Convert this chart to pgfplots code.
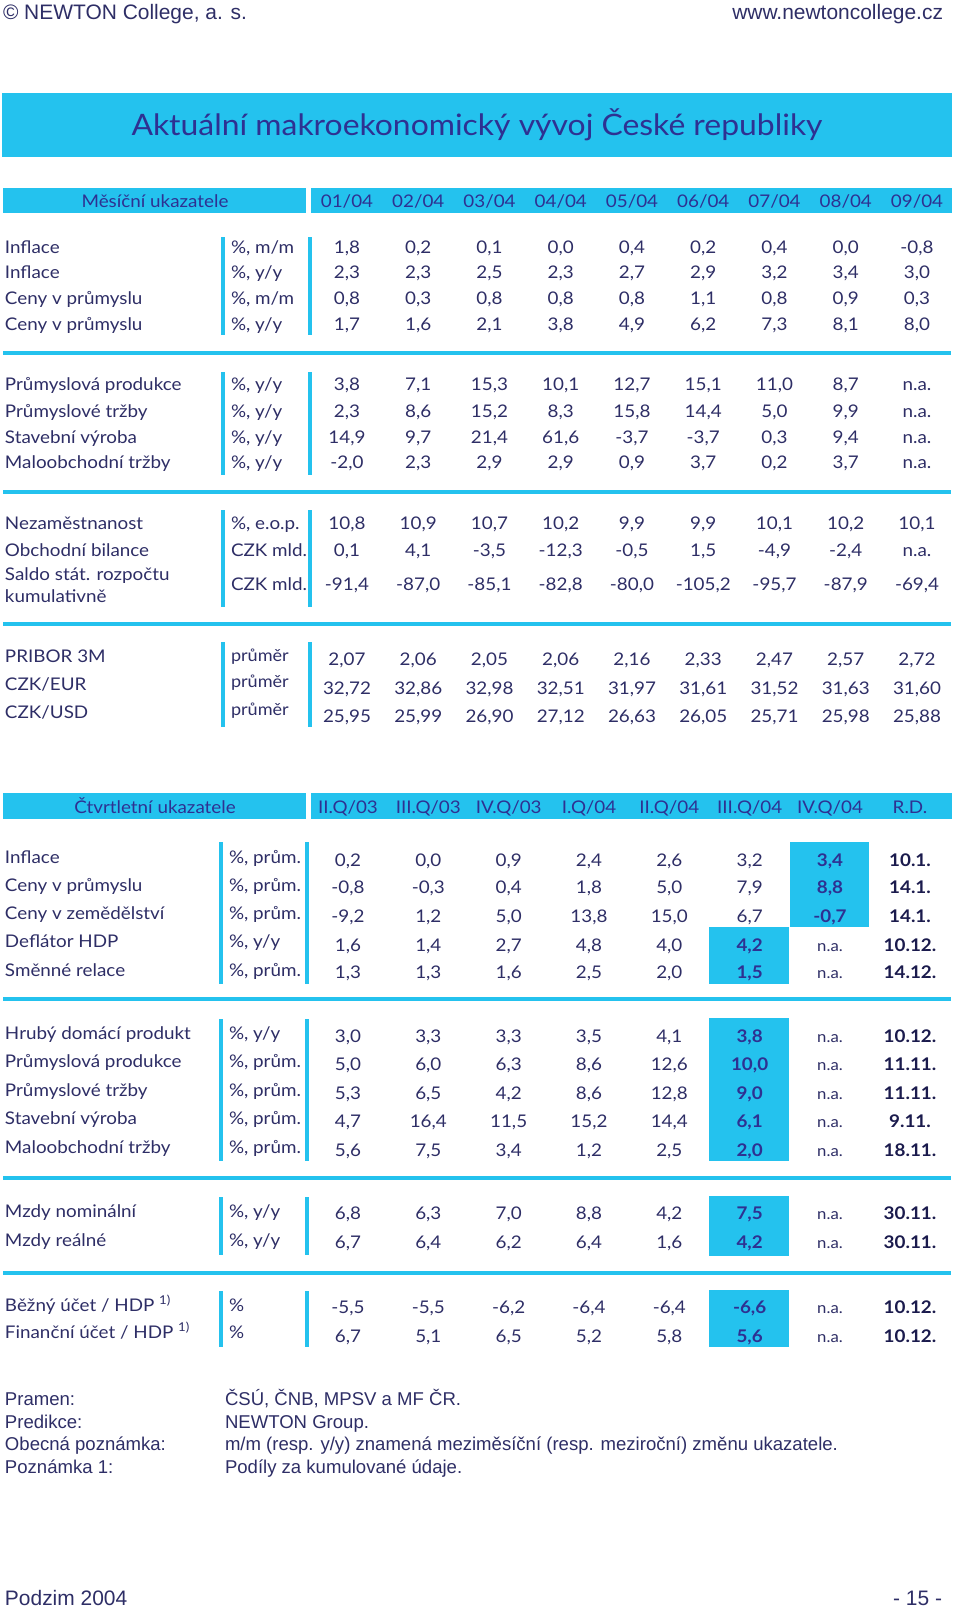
\documentclass[border=0pt]{standalone}
\usepackage{fontspec}
\setmainfont[FakeStretch=1.08]{Lato}
\newfontfamily\arialfont{Liberation Sans}
\usepackage{pgfplots}
\usepackage{pgfplotstable}
\pgfplotsset{compat=1.18}

\definecolor{ink}{RGB}{46,46,102}
\definecolor{navy}{RGB}{46,49,146}
\definecolor{deep}{RGB}{27,27,77}
\definecolor{cyanb}{RGB}{36,194,238}

% 1 px of the reference = 0.25mm = 0.711pt
\newcommand\fbody{\fontsize{12.4}{14}\selectfont}
\newcommand\fsmall{\fontsize{11}{13}\selectfont}
\newcommand\funit{\fontsize{11.9}{13}\selectfont}
\newcommand\ftitle{\fontsize{21}{24}\selectfont}
\newcommand\ftop{\arialfont\fontsize{14.9}{17}\selectfont}
\newcommand\fnote{\arialfont\fontsize{13.2}{15}\selectfont}
\newcommand\hv[1]{{\bfseries\color{navy}#1}}
\newcommand\na{{\fsmall n.a.}}

% monthly indicators: baseline y, then 01/04 ... 09/04
\pgfplotstableread[col sep=semicolon]{
yv;c1;c2;c3;c4;c5;c6;c7;c8;c9
253;1,8;0,2;0,1;0,0;0,4;0,2;0,4;0,0;-0,8
278;2,3;2,3;2,5;2,3;2,7;2,9;3,2;3,4;3,0
304;0,8;0,3;0,8;0,8;0,8;1,1;0,8;0,9;0,3
330;1,7;1,6;2,1;3,8;4,9;6,2;7,3;8,1;8,0
390;3,8;7,1;15,3;10,1;12,7;15,1;11,0;8,7;n.a.
417;2,3;8,6;15,2;8,3;15,8;14,4;5,0;9,9;n.a.
443;14,9;9,7;21,4;61,6;-3,7;-3,7;0,3;9,4;n.a.
468;-2,0;2,3;2,9;2,9;0,9;3,7;0,2;3,7;n.a.
529;10,8;10,9;10,7;10,2;9,9;9,9;10,1;10,2;10,1
556;0,1;4,1;-3,5;-12,3;-0,5;1,5;-4,9;-2,4;n.a.
590;-91,4;-87,0;-85,1;-82,8;-80,0;-105,2;-95,7;-87,9;-69,4
665;2,07;2,06;2,05;2,06;2,16;2,33;2,47;2,57;2,72
694;32,72;32,86;32,98;32,51;31,97;31,61;31,52;31,63;31,60
722;25,95;25,99;26,90;27,12;26,63;26,05;25,71;25,98;25,88
}\monthly

\pgfplotstableread[col sep=semicolon]{
y;t
253;Inflace
278;Inflace
304;Ceny v průmyslu
330;Ceny v průmyslu
390;Průmyslová produkce
417;Průmyslové tržby
443;Stavební výroba
468;Maloobchodní tržby
529;Nezaměstnanost
556;Obchodní bilance
580;Saldo stát. rozpočtu
602;kumulativně
662;PRIBOR 3M
690;CZK/EUR
718;CZK/USD
}\mnames

\pgfplotstableread[col sep=semicolon]{
y;t
253;\%, m/m
278;\%, y/y
304;\%, m/m
330;\%, y/y
390;\%, y/y
417;\%, y/y
443;\%, y/y
468;\%, y/y
529;\%, e.o.p.
556;CZK mld.
590;CZK mld.
661;{\funit průměr}
687;{\funit průměr}
715;{\funit průměr}
}\munits

% quarterly indicators: baseline y, II.Q/03 ... IV.Q/04, release date
\pgfplotstableread[col sep=semicolon]{
yv;q1;q2;q3;q4;q5;q6;q7;rd
866;0,2;0,0;0,9;2,4;2,6;3,2;\hv{3,4};10.1.
893;-0,8;-0,3;0,4;1,8;5,0;7,9;\hv{8,8};14.1.
922;-9,2;1,2;5,0;13,8;15,0;6,7;\hv{-0,7};14.1.
951;1,6;1,4;2,7;4,8;4,0;\hv{4,2};\na;10.12.
978;1,3;1,3;1,6;2,5;2,0;\hv{1,5};\na;14.12.
1042;3,0;3,3;3,3;3,5;4,1;\hv{3,8};\na;10.12.
1070;5,0;6,0;6,3;8,6;12,6;\hv{10,0};\na;11.11.
1099;5,3;6,5;4,2;8,6;12,8;\hv{9,0};\na;11.11.
1127;4,7;16,4;11,5;15,2;14,4;\hv{6,1};\na;9.11.
1156;5,6;7,5;3,4;1,2;2,5;\hv{2,0};\na;18.11.
1219;6,8;6,3;7,0;8,8;4,2;\hv{7,5};\na;30.11.
1248;6,7;6,4;6,2;6,4;1,6;\hv{4,2};\na;30.11.
1313;-5,5;-5,5;-6,2;-6,4;-6,4;\hv{-6,6};\na;10.12.
1342;6,7;5,1;6,5;5,2;5,8;\hv{5,6};\na;10.12.
}\quarterly

\pgfplotstableread[col sep=semicolon]{
y;t
863;Inflace
891;Ceny v průmyslu
919;Ceny v zemědělství
947;Deflátor HDP
976;Směnné relace
1039;Hrubý domácí produkt
1067;Průmyslová produkce
1096;Průmyslové tržby
1124;Stavební výroba
1153;Maloobchodní tržby
1217;Mzdy nominální
1246;Mzdy reálné
1311;Běžný účet / HDP \textsuperscript{1)}
1338;Finanční účet / HDP \textsuperscript{1)}
}\qnames

\pgfplotstableread[col sep=semicolon]{
y;t
863;\%, prům.
891;\%, prům.
919;\%, prům.
947;\%, y/y
976;\%, prům.
1039;\%, y/y
1067;\%, prům.
1096;\%, prům.
1124;\%, prům.
1153;\%, prům.
1217;\%, y/y
1246;\%, y/y
1311;\%
1338;\%
}\qunits

\pgfplotsset{
  txt/.style={only marks, mark=none, point meta=explicit symbolic, nodes near coords,
    every node near coord/.append style={anchor=base, inner sep=0pt, outer sep=0pt,
      text=ink, font=\fbody}},
  ltxt/.style={txt, every node near coord/.append style={anchor=base west}},
  rtxt/.style={txt, every node near coord/.append style={anchor=base east}},
  rule/.style={mark=none, draw=cyanb, line width=1mm},
  box/.style={mark=none, draw=none, fill=cyanb},
}

\begin{document}
\begin{tikzpicture}
\begin{axis}[
    x=0.25mm, y=0.25mm, y dir=reverse,
    xmin=0, xmax=960, ymin=0, ymax=1608,
    hide axis, clip=false,
]
\addplot[mark=none, draw=none, fill=white] coordinates {(0,0) (960,0) (960,1608) (0,1608)};

% bands and highlighted cells
\addplot[box] coordinates {(2,93) (952,93) (952,157) (2,157)};
\addplot[box] coordinates {(3,188) (306,188) (306,213) (3,213)};
\addplot[box] coordinates {(311,188) (952,188) (952,213) (311,213)};
\addplot[box] coordinates {(3,793) (306,793) (306,819) (3,819)};
\addplot[box] coordinates {(311,793) (952,793) (952,819) (311,819)};
\addplot[box] coordinates {(790,842) (869,842) (869,927) (790,927)};
\addplot[box] coordinates {(709,927) (789,927) (789,984) (709,984)};
\addplot[box] coordinates {(709,1018) (789,1018) (789,1161) (709,1161)};
\addplot[box] coordinates {(709,1196) (789,1196) (789,1256) (709,1256)};
\addplot[box] coordinates {(709,1290) (789,1290) (789,1347) (709,1347)};

% separators
\addplot[rule] coordinates {(3,353) (951,353)};
\addplot[rule] coordinates {(3,492) (951,492)};
\addplot[rule] coordinates {(3,624) (951,624)};
\addplot[rule] coordinates {(3,999) (951,999)};
\addplot[rule] coordinates {(3,1178) (951,1178)};
\addplot[rule] coordinates {(3,1273) (951,1273)};

% vertical bars
\addplot[rule] coordinates {(223,237) (223,335)};
\addplot[rule] coordinates {(310,237) (310,335)};
\addplot[rule] coordinates {(223,372) (223,475)};
\addplot[rule] coordinates {(310,372) (310,475)};
\addplot[rule] coordinates {(223,510) (223,607)};
\addplot[rule] coordinates {(310,510) (310,607)};
\addplot[rule] coordinates {(223,642) (223,727)};
\addplot[rule] coordinates {(310,642) (310,727)};
\addplot[rule] coordinates {(221,842) (221,984)};
\addplot[rule] coordinates {(307,842) (307,984)};
\addplot[rule] coordinates {(221,1019) (221,1161)};
\addplot[rule] coordinates {(307,1019) (307,1161)};
\addplot[rule] coordinates {(221,1197) (221,1255)};
\addplot[rule] coordinates {(307,1197) (307,1255)};
\addplot[rule] coordinates {(221,1291) (221,1347)};
\addplot[rule] coordinates {(307,1291) (307,1347)};

% page header, title
\addplot[ltxt, every node near coord/.append style={font=\ftop}] coordinates {(3,19) [© NEWTON College, a. s.]};
\addplot[rtxt, every node near coord/.append style={font=\ftop}] coordinates {(943,19) [www.newtoncollege.cz]};
\addplot[txt, every node near coord/.append style={font=\ftitle, text=navy}] coordinates {(477,135) [Aktuální makroekonomický vývoj České republiky]};

% monthly table
\addplot[txt, every node near coord/.append style={text=navy}] coordinates {
(155,207) [Měsíční ukazatele]
(347,207) [01/04] (418.25,207) [02/04] (489.5,207) [03/04] (560.75,207) [04/04]
(632,207) [05/04] (703.25,207) [06/04] (774.5,207) [07/04] (845.75,207) [08/04]
(917,207) [09/04]
};
\addplot[ltxt] table[x expr=5, y=y, meta=t] {\mnames};
\addplot[ltxt] table[x expr=231, y=y, meta=t] {\munits};
\pgfplotsinvokeforeach{1,...,9}{
  \addplot[txt] table[x expr={347+71.25*(#1-1)}, y=yv, meta=c#1] {\monthly};
}

% quarterly table
\addplot[txt, every node near coord/.append style={text=navy}] coordinates {
(155,813) [Čtvrtletní ukazatele]
(348,813) [II.Q/03] (428.3,813) [III.Q/03] (508.7,813) [IV.Q/03] (589,813) [I.Q/04]
(669.3,813) [II.Q/04] (749.7,813) [III.Q/04] (830,813) [IV.Q/04] (910,813) [R.D.]
};
\addplot[ltxt] table[x expr=5, y=y, meta=t] {\qnames};
\addplot[ltxt] table[x expr=229, y=y, meta=t] {\qunits};
\pgfplotsinvokeforeach{1,...,7}{
  \addplot[txt] table[x expr={348+80.33*(#1-1)}, y=yv, meta=q#1] {\quarterly};
}
\addplot[txt, every node near coord/.append style={font=\fbody\bfseries, text=deep}]
  table[x expr=910, y=yv, meta=rd] {\quarterly};

% notes and footer
\addplot[ltxt, every node near coord/.append style={font=\fnote}] coordinates {
(5,1405) [Pramen:] (5,1428) [Predikce:] (5,1450) [Obecná poznámka:] (5,1473) [Poznámka 1:]
(225,1405) [ČSÚ, ČNB, MPSV a MF ČR.]
(225,1428) [NEWTON Group.]
(225,1450) [m/m (resp. y/y) znamená meziměsíční (resp. meziroční) změnu ukazatele.]
(225,1473) [Podíly za kumulované údaje.]
};
\addplot[ltxt, every node near coord/.append style={font=\ftop}] coordinates {(5,1605) [Podzim 2004]};
\addplot[rtxt, every node near coord/.append style={font=\ftop}] coordinates {(942,1605) [- 15 -]};
\end{axis}
\end{tikzpicture}
\end{document}
